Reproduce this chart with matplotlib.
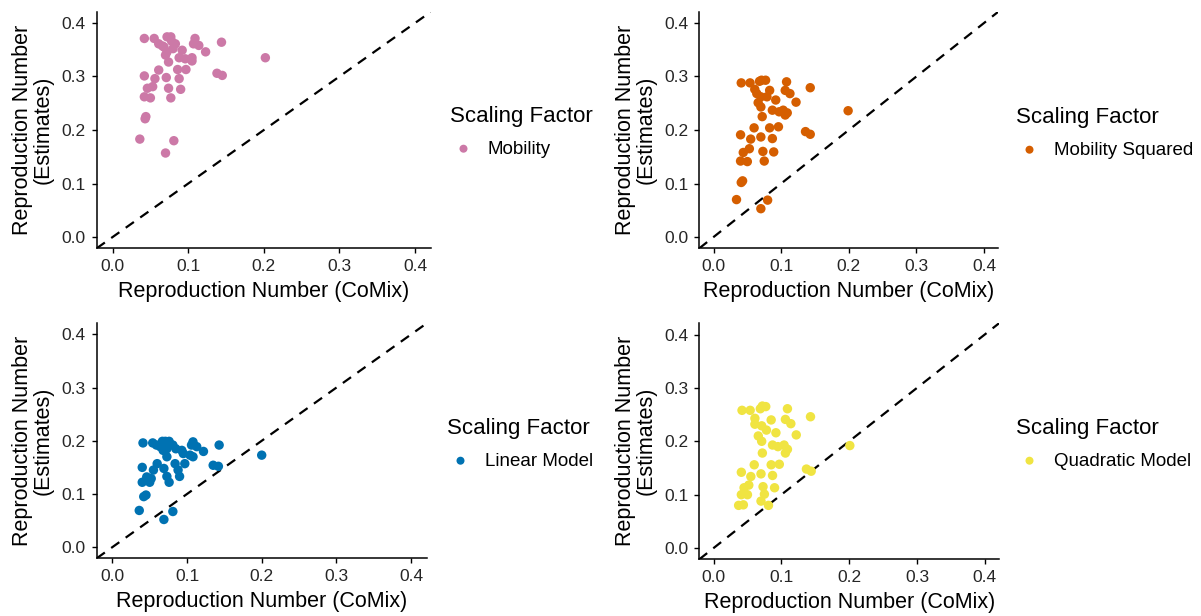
import matplotlib
matplotlib.use("Agg")
import matplotlib.pyplot as plt

plt.rcParams["font.family"] = ["Liberation Sans", "DejaVu Sans"]

# reproduction number from CoMix (x) vs estimates (y), one scaling factor per panel
mob_x = [0.042, 0.055, 0.072, 0.077, 0.061, 0.068, 0.072, 0.083, 0.080, 0.092,
         0.109, 0.107, 0.114, 0.123, 0.144, 0.202, 0.088, 0.096, 0.105, 0.105,
         0.074, 0.061, 0.086, 0.097, 0.138, 0.145, 0.042, 0.056, 0.071, 0.088,
         0.046, 0.053, 0.074, 0.090, 0.042, 0.050, 0.077, 0.044, 0.043, 0.036,
         0.081, 0.070, 0.066, 0.070, 0.078]
mob_y = [0.371, 0.371, 0.374, 0.374, 0.361, 0.355, 0.346, 0.361, 0.352, 0.349,
         0.371, 0.361, 0.358, 0.346, 0.364, 0.335, 0.335, 0.333, 0.335, 0.329,
         0.327, 0.312, 0.313, 0.313, 0.306, 0.302, 0.301, 0.296, 0.298, 0.296,
         0.278, 0.281, 0.278, 0.276, 0.262, 0.260, 0.260, 0.225, 0.221, 0.183,
         0.180, 0.157, 0.357, 0.340, 0.366]

sq_x = [0.041, 0.054, 0.068, 0.071, 0.077, 0.108, 0.143, 0.199, 0.061, 0.064,
        0.070, 0.083, 0.092, 0.106, 0.113, 0.122, 0.066, 0.070, 0.079, 0.087,
        0.097, 0.103, 0.106, 0.109, 0.072, 0.060, 0.083, 0.096, 0.136, 0.143,
        0.040, 0.055, 0.070, 0.087, 0.044, 0.053, 0.073, 0.089, 0.040, 0.050,
        0.075, 0.043, 0.041, 0.034, 0.080, 0.070]
sq_y = [0.288, 0.288, 0.291, 0.293, 0.293, 0.290, 0.279, 0.236, 0.276, 0.268,
        0.262, 0.274, 0.256, 0.274, 0.268, 0.252, 0.251, 0.243, 0.262, 0.237,
        0.234, 0.237, 0.228, 0.232, 0.225, 0.204, 0.204, 0.206, 0.197, 0.192,
        0.191, 0.183, 0.187, 0.184, 0.158, 0.165, 0.160, 0.159, 0.142, 0.141,
        0.142, 0.105, 0.102, 0.070, 0.069, 0.053]

lin_x = [0.041, 0.054, 0.067, 0.071, 0.076, 0.108, 0.143, 0.200, 0.059, 0.064,
         0.068, 0.073, 0.081, 0.085, 0.093, 0.095, 0.106, 0.113, 0.122, 0.073,
         0.104, 0.108, 0.097, 0.084, 0.060, 0.135, 0.142, 0.040, 0.055, 0.069,
         0.088, 0.046, 0.052, 0.073, 0.090, 0.040, 0.050, 0.076, 0.045, 0.042,
         0.036, 0.081, 0.069]
lin_y = [0.196, 0.196, 0.199, 0.199, 0.199, 0.198, 0.192, 0.173, 0.192, 0.189,
         0.182, 0.185, 0.192, 0.185, 0.182, 0.176, 0.192, 0.189, 0.180, 0.170,
         0.173, 0.170, 0.157, 0.157, 0.157, 0.154, 0.152, 0.150, 0.145, 0.148,
         0.145, 0.132, 0.129, 0.133, 0.133, 0.122, 0.122, 0.122, 0.098, 0.095,
         0.069, 0.067, 0.052]

quad_x = [0.042, 0.054, 0.069, 0.072, 0.077, 0.109, 0.143, 0.201, 0.061, 0.061,
          0.071, 0.085, 0.078, 0.106, 0.114, 0.122, 0.066, 0.071, 0.092, 0.087,
          0.095, 0.104, 0.106, 0.109, 0.072, 0.060, 0.085, 0.097, 0.137, 0.144,
          0.041, 0.055, 0.070, 0.087, 0.045, 0.052, 0.073, 0.090, 0.041, 0.050,
          0.075, 0.037, 0.044, 0.070, 0.081]
quad_y = [0.258, 0.258, 0.261, 0.266, 0.265, 0.261, 0.246, 0.192, 0.243, 0.232,
          0.229, 0.240, 0.221, 0.241, 0.233, 0.212, 0.210, 0.200, 0.216, 0.193,
          0.190, 0.193, 0.178, 0.185, 0.178, 0.156, 0.156, 0.157, 0.148, 0.144,
          0.142, 0.134, 0.139, 0.136, 0.113, 0.118, 0.115, 0.113, 0.100, 0.100,
          0.101, 0.080, 0.081, 0.088, 0.080]

panels = [
    (mob_x, mob_y, "Mobility", "#CC79A7"),
    (sq_x, sq_y, "Mobility Squared", "#D55E00"),
    (lin_x, lin_y, "Linear Model", "#0072B2"),
    (quad_x, quad_y, "Quadratic Model", "#F0E442"),
]

W, H = 1201, 616
# panel boxes in pixels: left, right, top, bottom
boxes = [(96.7, 431, 11.7, 248.3), (699.3, 998.3, 11.7, 248.3),
         (96.7, 426.7, 323.3, 558.3), (699.3, 999, 323.3, 559.3)]
# legend anchors (upper-left corner of the legend) in pixels
leg_pos = [(441, 97), (1007, 98), (438, 409), (1007, 409)]

fig = plt.figure(figsize=(W / 100, H / 100), dpi=100)
lim = (-0.021, 0.421)
ticks = [0.0, 0.1, 0.2, 0.3, 0.4]

for (x, y, name, col), (l, r, t, b), (lx, ly) in zip(panels, boxes, leg_pos):
    ax = fig.add_axes([l / W, 1 - b / H, (r - l) / W, (b - t) / H])
    ax.plot(lim, lim, color="black", lw=1.6, ls=(0, (4.5, 3.5)), zorder=1)
    ax.scatter(x, y, s=46, color=col, edgecolors="none", label=name, zorder=2)
    ax.set_xlim(lim)
    ax.set_ylim(lim)
    ax.set_xticks(ticks)
    ax.set_yticks(ticks)
    ax.set_xticklabels([f"{v:.1f}" for v in ticks])
    ax.set_yticklabels([f"{v:.1f}" for v in ticks])
    for side in ("top", "right"):
        ax.spines[side].set_visible(False)
    for side in ("left", "bottom"):
        ax.spines[side].set_linewidth(1.1)
    ax.tick_params(length=3.5, width=1.0, labelsize=12.5, color="black",
                   labelcolor="#262626", pad=4.5)
    ax.set_xlabel("Reproduction Number (CoMix)", fontsize=15.5, labelpad=4.5)
    ax.set_ylabel("Reproduction Number\n(Estimates)", fontsize=15.5,
                  labelpad=5.5, linespacing=0.95)
    leg = ax.legend(loc="upper left", bbox_to_anchor=(lx / W, 1 - ly / H),
                    bbox_transform=fig.transFigure, frameon=False,
                    title="Scaling Factor", title_fontsize=16, fontsize=13.5,
                    handlelength=1.4, handletextpad=0.6, borderpad=0,
                    markerscale=0.85, labelspacing=0.7)
    leg._legend_box.align = "left"

fig.savefig("out.png", dpi=100)
